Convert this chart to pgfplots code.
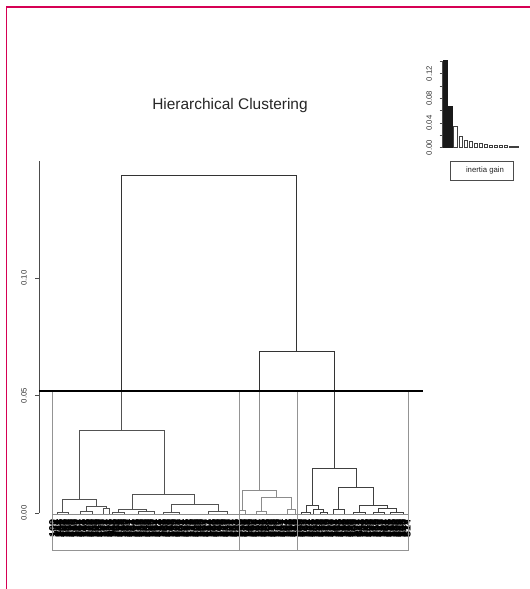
\documentclass[border=0pt]{standalone}
\usepackage{pgfplots}
\pgfplotsset{compat=1.18}
\usepackage{fontspec}
\setmainfont{Liberation Sans}
\definecolor{framecol}{RGB}{214,0,84}
\pgfplotsset{
  top/.style={black!80, line width=0.7bp, mark=none},
  clA/.style={black!68, line width=0.7bp, mark=none},
  clB/.style={black!45, line width=0.7bp, mark=none},
  clC/.style={black!75, line width=0.7bp, mark=none},
  rct/.style={black!42, line width=0.7bp, mark=none},
}
\begin{document}
\begin{tikzpicture}[x=1bp,y=1bp]
\path[use as bounding box] (0,0) rectangle (530,589);
\draw[framecol, line width=1.5bp] (6.5,0) -- (6.5,582) -- (530,582);
\node[font=\fontsize{15.5}{18}\selectfont, text=black!85] at (230,483) {Hierarchical Clustering};
\begin{axis}[
  at={(39bp,76bp)}, anchor=south west, scale only axis,
  width=384bp, height=352bp,
  xmin=39, xmax=423, ymin=0, ymax=0.1498,
  clip=false,
  axis y line*=left, axis x line*=bottom,
  x axis line style={draw=none},
  y axis line style={black!70, line width=0.6bp},
  tick align=outside,
  /pgf/number format/assume math mode=true,
  ytick={0,0.05,0.1}, yticklabels={0.00,0.05,0.10},
  ytick style={black!70, line width=0.6bp},
  major tick length=4bp,
  yticklabel style={rotate=90, anchor=south, inner sep=0pt, font=\fontsize{7.8}{9}\selectfont, text=black!80},
  yticklabel shift=8bp,
  xtick={53,54.416,...,407.1},
  xtick style={draw=none},
  xticklabel={\pgfmathparse{int(mod(\ticknum*37,251)+100)}\pgfmathresult},
  xticklabel style={rotate=90, anchor=east, inner sep=0pt, font=\fontsize{10.8}{12}\selectfont\bfseries, text=black},
  xticklabel shift=2bp,
]
% cluster rectangles
\addplot[rct] coordinates {(52,-0.01574) (52,0.0519) (239,0.0519) (239,-0.01574) (52,-0.01574)};
\addplot[rct] coordinates {(239,-0.01574) (239,0.0519) (297,0.0519) (297,-0.01574) (239,-0.01574)};
\addplot[rct] coordinates {(297,-0.01574) (297,0.0519) (408,0.0519) (408,-0.01574) (297,-0.01574)};
% leaf baseline
\addplot[black!45, line width=0.8bp, mark=none] coordinates {(52,-0.0004) (408,-0.0004)};
% upper tree
\addplot[top] coordinates {(121.7,0.0519) (121.7,0.1438) (296.7,0.1438) (296.7,0.0686)};
\addplot[top] coordinates {(259.3,0.0519) (259.3,0.0686) (334.2,0.0686) (334.2,0.0519)};
% cluster 1
\addplot[clA] coordinates {(121.7,0.0353) (121.7,0.0519)};
\addplot[clA] coordinates {(79.3,0.0060) (79.3,0.0353) (164,0.0353) (164,0.0081)};
\addplot[clA] coordinates {(62.3,0.0003) (62.3,0.0060) (96.7,0.0060) (96.7,0.0030)};
\addplot[clA] coordinates {(57.3,-0.0004) (57.3,0.0003) (68.3,0.0003) (68.3,-0.0004)};
\addplot[clA] coordinates {(86,0.0006) (86,0.0030) (106,0.0030) (106,0.0020)};
\addplot[clA] coordinates {(80,-0.0004) (80,0.0006) (92,0.0006) (92,-0.0004)};
\addplot[clA] coordinates {(103,-0.0004) (103,0.0020) (109,0.0020) (109,-0.0004)};
\addplot[clA] coordinates {(132.3,0.00157) (132.3,0.0081) (194.7,0.0081) (194.7,0.00383)};
\addplot[clA] coordinates {(118.3,0.0004) (118.3,0.00157) (146.3,0.00157) (146.3,0.0006)};
\addplot[clA] coordinates {(112,-0.0004) (112,0.0004) (124.6,0.0004) (124.6,-0.0004)};
\addplot[clA] coordinates {(138,-0.0004) (138,0.0006) (154.6,0.0006) (154.6,-0.0004)};
\addplot[clA] coordinates {(171.3,0.0003) (171.3,0.00383) (218.1,0.00383) (218.1,0.0007)};
\addplot[clA] coordinates {(163,-0.0004) (163,0.0003) (179.6,0.0003) (179.6,-0.0004)};
\addplot[clA] coordinates {(208.7,-0.0004) (208.7,0.0007) (227.5,0.0007) (227.5,-0.0004)};
% cluster 2
\addplot[clB] coordinates {(259.3,0.0095) (259.3,0.0519)};
\addplot[clB] coordinates {(242.3,0.0010) (242.3,0.0095) (276.3,0.0095) (276.3,0.00668)};
\addplot[clB] coordinates {(239.5,-0.0004) (239.5,0.0010) (245.1,0.0010) (245.1,-0.0004)};
\addplot[clB] coordinates {(261.3,0.0008) (261.3,0.00668) (291.3,0.00668) (291.3,0.0015)};
\addplot[clB] coordinates {(256.3,-0.0004) (256.3,0.0008) (266.3,0.0008) (266.3,-0.0004)};
\addplot[clB] coordinates {(287,-0.0004) (287,0.0015) (295.6,0.0015) (295.6,-0.0004)};
% cluster 3
\addplot[clC] coordinates {(334.2,0.01885) (334.2,0.0519)};
\addplot[clC] coordinates {(312.3,0.0031) (312.3,0.01885) (356.1,0.01885) (356.1,0.01106)};
\addplot[clC] coordinates {(306,0.0003) (306,0.0031) (318.6,0.0031) (318.6,0.0016)};
\addplot[clC] coordinates {(301.7,-0.0004) (301.7,0.0003) (310.3,0.0003) (310.3,-0.0004)};
\addplot[clC] coordinates {(313.5,-0.0004) (313.5,0.0016) (323.7,0.0016) (323.7,0.0004)};
\addplot[clC] coordinates {(320,-0.0004) (320,0.0004) (327.4,0.0004) (327.4,-0.0004)};
\addplot[clC] coordinates {(338.7,0.0016) (338.7,0.01106) (373.5,0.01106) (373.5,0.00328)};
\addplot[clC] coordinates {(333.4,-0.0004) (333.4,0.0016) (344,0.0016) (344,-0.0004)};
\addplot[clC] coordinates {(359.3,0.0002) (359.3,0.00328) (387.7,0.00328) (387.7,0.0020)};
\addplot[clC] coordinates {(353.5,-0.0004) (353.5,0.0002) (365.1,0.0002) (365.1,-0.0004)};
\addplot[clC] coordinates {(378.7,0.0004) (378.7,0.0020) (396.7,0.0020) (396.7,0.0003)};
\addplot[clC] coordinates {(373,-0.0004) (373,0.0004) (384.4,0.0004) (384.4,-0.0004)};
\addplot[clC] coordinates {(390,-0.0004) (390,0.0003) (403.4,0.0003) (403.4,-0.0004)};
% cut line
\addplot[black, line width=1.8bp, mark=none] coordinates {(39,0.0519) (422.7,0.0519)};
\end{axis}
% inset: inertia gain
\begin{axis}[
  at={(442.7bp,441.3bp)}, anchor=south west, scale only axis,
  width=76.3bp, height=86.45bp,
  xmin=0.433, xmax=15.6, ymin=0, ymax=0.14,
  clip=false,
  axis y line*=left, axis x line=none,
  /pgf/number format/assume math mode=true,
  ytick={0,0.02,0.04,0.06,0.08,0.1,0.12,0.14},
  yticklabels={0.00,,0.04,,0.08,,0.12,},
  tick align=outside, major tick length=3bp,
  y axis line style={black!70, line width=0.6bp},
  ytick style={black!70, line width=0.6bp},
  yticklabel style={rotate=90, anchor=south, inner sep=0pt, font=\fontsize{7.8}{9}\selectfont, text=black!80},
  yticklabel shift=7.5bp,
]
\addplot[ybar, bar width=3.7bp, bar shift=0pt, fill=black!90, draw=black!90, line width=0.5bp] coordinates {(1,0.141) (2,0.0675)};
\addplot[ybar, bar width=3.7bp, bar shift=0pt, fill=white, draw=black!75, line width=0.6bp] coordinates {(3,0.0351) (4,0.0178) (5,0.0116) (6,0.0097) (7,0.0075) (8,0.0066) (9,0.0060) (10,0.0046) (11,0.0043) (12,0.0038) (13,0.0034) (14,0.0030) (15,0.0026)};
\end{axis}
\draw[black!70, line width=0.6bp] (450.7,409) rectangle (513.3,428);
\node[font=\fontsize{7.8}{9}\selectfont, text=black!85] at (485,418.5) {inertia gain};
\end{tikzpicture}
\end{document}
